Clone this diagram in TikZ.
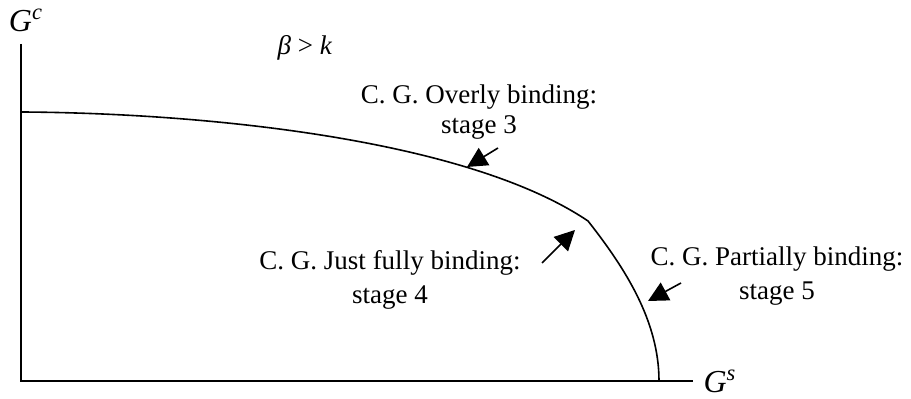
\documentclass[tikz,border=0pt]{standalone}
\usepackage{fontspec}
\setmainfont{Liberation Serif}
\usetikzlibrary{arrows.meta}

\begin{document}
\begin{tikzpicture}[x=0.5pt, y=-0.5pt,
    axis/.style={line width=1pt},
    frontier/.style={line width=0.8pt},
    pointer/.style={line width=0.8pt, -{Triangle[length=10pt, width=10pt]}},
    lbl/.style={inner sep=0pt, align=center, font=\fontsize{13.5}{15}\selectfont},
    widelbl/.style={lbl, font=\fontsize{13.5}{17}\selectfont},
    axlbl/.style={inner sep=0pt, font=\fontsize{16}{18}\selectfont}]
  \useasboundingbox (0,0) rectangle (911,399);
  \coordinate (o) at (21,381);
  \coordinate (ytop) at (21,44);
  \coordinate (xend) at (693,381);
  \coordinate (c0) at (21,112);
  \coordinate (kink) at (588,221);
  \coordinate (c1) at (659,381);
  \draw[axis] (ytop) -- (o) -- (xend);
  \draw[frontier] (c0) .. controls (200,113) and (465,138) .. (kink)
    .. controls (625,268) and (659,321) .. (c1);
  \node[axlbl, anchor=base] (gc) at (26,32) {\textit{G}\textsuperscript{\textit{c}}};
  \node[axlbl, anchor=base] (gs) at (720,393) {\textit{G}\textsuperscript{\textit{s}}};
  \node[lbl, anchor=base] (cond) at (305,55) {\textit{β} > \textit{k}};
  \node[lbl, anchor=north] (s3) at (479,84) {C. G. Overly binding:\\stage 3};
  \node[widelbl, anchor=north] (s4) at (390,250) {C. G. Just fully binding:\\stage 4};
  \node[widelbl, anchor=north] (s5) at (777,246) {C. G. Partially binding:\\stage 5};
  \coordinate (t3) at (498,148);
  \coordinate (h3) at (467,167);
  \coordinate (t4) at (542,263);
  \coordinate (h4) at (575,230);
  \coordinate (t5) at (681,283);
  \coordinate (h5) at (648,301);
  \draw[pointer] (t3) -- (h3);
  \draw[pointer] (t4) -- (h4);
  \draw[pointer] (t5) -- (h5);
\end{tikzpicture}
\end{document}
